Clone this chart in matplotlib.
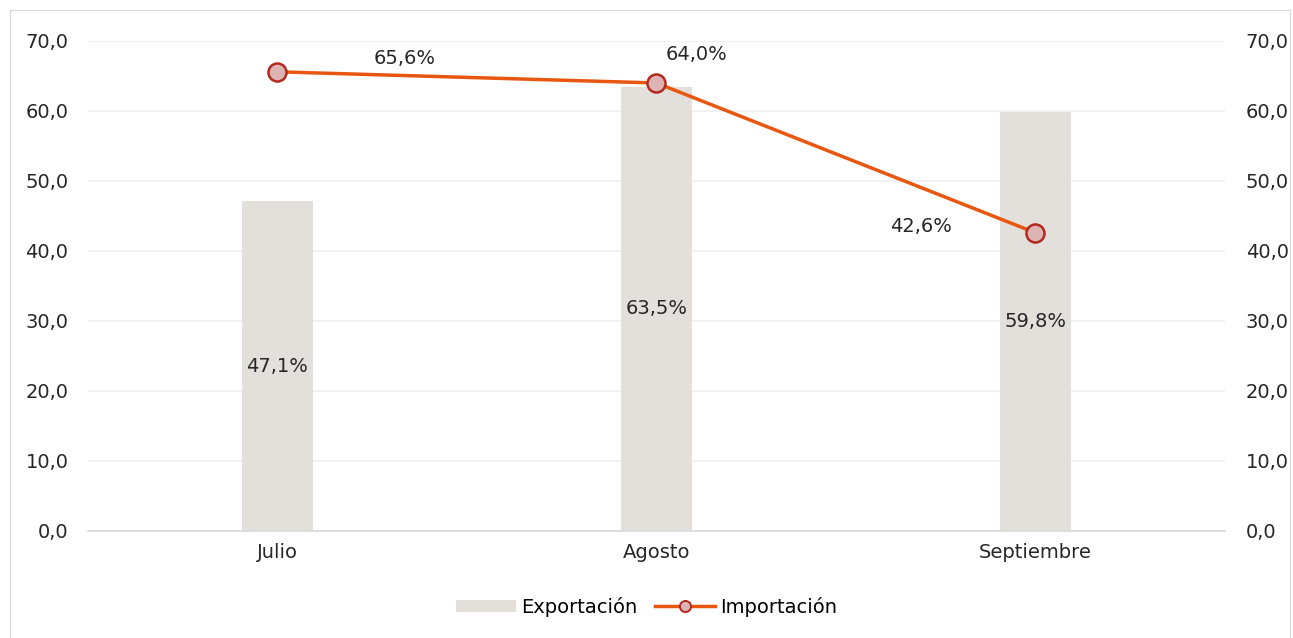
import matplotlib
matplotlib.use("Agg")
import matplotlib.pyplot as plt
import numpy as np
from matplotlib.lines import Line2D
from matplotlib.patches import Patch, Rectangle
from matplotlib.ticker import FuncFormatter

meses = ["Julio", "Agosto", "Septiembre"]
exportacion = [47.1, 63.5, 59.8]
importacion = [65.6, 64.0, 42.6]
yticks = [0, 10, 20, 30, 40, 50, 60, 70]

BAR_COLOR = "#E3E0DC"
LINE_COLOR = "#E8560F"
MARKER_FACE = "#DDB3B3"
MARKER_EDGE = "#B1291F"
TEXT_COLOR = "#262626"
FS = 14

plt.rcParams["font.family"] = ["DejaVu Sans"]
plt.rcParams["font.size"] = FS

fig = plt.figure(figsize=(12.93, 6.38), dpi=100)
fig.patches.append(Rectangle((10 / 1293, -0.01), 1280 / 1293, 1 - 10 / 638 + 0.01,
                             transform=fig.transFigure, fill=False,
                             edgecolor="#D9D9D9", linewidth=0.8))

ax = fig.add_axes([88 / 1293, 1 - 531 / 638, (1225 - 88) / 1293, 490 / 638])
x = np.arange(len(meses))

ax.bar(x, exportacion, width=0.185, color=BAR_COLOR, zorder=2)
for xi, v in zip(x, exportacion):
    ax.text(xi, v / 2, f"{v:.1f}%".replace(".", ","), ha="center", va="center",
            color=TEXT_COLOR, fontsize=FS, zorder=5)

ax.plot(x, importacion, color=LINE_COLOR, linewidth=2.5, marker="o", markersize=13,
        markerfacecolor=MARKER_FACE, markeredgecolor=MARKER_EDGE, markeredgewidth=1.8,
        zorder=4)

# label offsets in pixels relative to each point
offsets = [(127, 13), (40, 29), (-114, 6)]
for xi, v, (dx, dy) in zip(x, importacion, offsets):
    ax.annotate(f"{v:.1f}%".replace(".", ","), (xi, v), xytext=(dx, dy),
                textcoords="offset pixels", ha="center", va="center",
                color=TEXT_COLOR, fontsize=FS, zorder=5)

ax.set_xlim(-0.5, 2.5)
ax.set_ylim(0, 70)
ax.set_yticks(yticks)
fmt = FuncFormatter(lambda v, p: f"{v:.1f}".replace(".", ","))
ax.yaxis.set_major_formatter(fmt)
ax.set_xticks(x)
ax.set_xticklabels(meses)
ax.grid(axis="y", color="#EFEFEF", linewidth=1.2, zorder=0)
for s in ["top", "right", "left"]:
    ax.spines[s].set_visible(False)
ax.spines["bottom"].set_color("#D9D9D9")
ax.spines["bottom"].set_linewidth(1.2)
ax.tick_params(axis="both", length=0, colors=TEXT_COLOR, labelsize=FS)
ax.tick_params(axis="y", pad=14)
ax.tick_params(axis="x", pad=9)

ax2 = ax.twinx()
ax2.set_ylim(0, 70)
ax2.set_yticks(yticks)
ax2.yaxis.set_major_formatter(fmt)
for s in ["top", "right", "left", "bottom"]:
    ax2.spines[s].set_visible(False)
ax2.tick_params(axis="y", length=0, colors=TEXT_COLOR, labelsize=FS, pad=15)

handles = [
    Patch(facecolor=BAR_COLOR, edgecolor="none"),
    Line2D([], [], color=LINE_COLOR, linewidth=2.5, marker="o", markersize=8,
           markerfacecolor=MARKER_FACE, markeredgecolor=MARKER_EDGE, markeredgewidth=1.4),
]
fig.legend(handles, ["Exportación", "Importación"], loc="center",
           bbox_to_anchor=(0.5, 1 - 607 / 638), ncol=2, frameon=False, fontsize=FS,
           handlelength=3.1, handletextpad=0.25, columnspacing=0.9, handleheight=0.6)

fig.savefig("out.png", dpi=100, facecolor="white")
